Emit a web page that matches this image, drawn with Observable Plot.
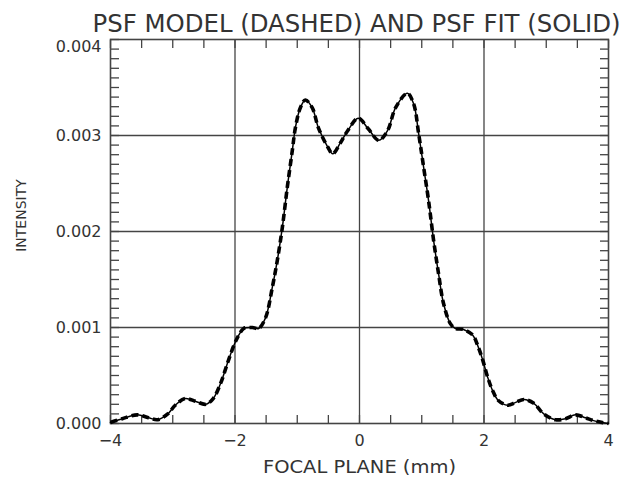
<!DOCTYPE html>
<html><head><meta charset="utf-8">
<script src="https://cdn.jsdelivr.net/npm/d3@7"></script>
<script src="https://cdn.jsdelivr.net/npm/@observablehq/plot@0.6"></script>
<style>body{margin:0;background:#fff} svg{display:block}</style>
</head><body><div id="chart"></div>
<script>
const focal = [-4.00,-3.81,-3.57,-3.39,-3.24,-3.08,-2.96,-2.80,-2.63,-2.47,-2.35,-2.23,-2.12,-2.02,-1.94,-1.86,-1.72,-1.62,-1.51,-1.40,-1.32,-1.24,-1.16,-1.08,-1.03,-0.95,-0.87,-0.76,-0.66,-0.51,-0.43,-0.31,-0.19,-0.02,0.14,0.31,0.45,0.58,0.77,0.87,0.95,1.03,1.11,1.19,1.27,1.35,1.46,1.54,1.67,1.82,1.90,1.98,2.06,2.14,2.23,2.38,2.51,2.64,2.80,2.96,3.15,3.31,3.47,3.63,3.76,3.90,4.00];
const psfModel = [0.00001,0.00005,0.00009,0.00006,0.00004,0.00010,0.00019,0.00026,0.00023,0.00020,0.00026,0.00042,0.00063,0.00081,0.00092,0.00099,0.00100,0.00099,0.00110,0.00142,0.00170,0.00204,0.00246,0.00284,0.00308,0.00329,0.00337,0.00329,0.00308,0.00288,0.00281,0.00292,0.00305,0.00318,0.00307,0.00295,0.00305,0.00329,0.00344,0.00333,0.00302,0.00267,0.00232,0.00191,0.00156,0.00125,0.00104,0.00099,0.00098,0.00092,0.00081,0.00066,0.00048,0.00034,0.00024,0.00019,0.00022,0.00025,0.00021,0.00010,0.00004,0.00005,0.00009,0.00006,0.00003,0.00001,0.00000];
const psfFit = [0.00001,0.00005,0.00009,0.00006,0.00004,0.00010,0.00019,0.00026,0.00023,0.00020,0.00026,0.00042,0.00063,0.00081,0.00092,0.00099,0.00100,0.00099,0.00110,0.00142,0.00170,0.00204,0.00246,0.00284,0.00308,0.00329,0.00337,0.00329,0.00308,0.00288,0.00281,0.00292,0.00305,0.00318,0.00307,0.00295,0.00305,0.00329,0.00344,0.00333,0.00302,0.00267,0.00232,0.00191,0.00156,0.00125,0.00104,0.00099,0.00098,0.00092,0.00081,0.00066,0.00048,0.00034,0.00024,0.00019,0.00022,0.00025,0.00021,0.00010,0.00004,0.00005,0.00009,0.00006,0.00003,0.00001,0.00000];
const xMajor = [-4,-2,0,2,4];
const xGrid = [-2,0,2];
const xMinor = [-4,-3.5,-3,-2.5,-2,-1.5,-1,-0.5,0,0.5,1,1.5,2,2.5,3,3.5,4];
const yMajor = [0,0.001,0.002,0.003];
const yTop = [0.004];
const yGrid = [0.001,0.002,0.003];
const yMinor = d3.range(0, 41).map(i => i / 10000);
const title = "PSF MODEL (DASHED) AND PSF FIT (SOLID)";
const xLabel = "FOCAL PLANE (mm)";
const yLabel = "INTENSITY";

const rows = focal.map((x, i) => ({x, model: psfModel[i], fit: psfFit[i]}));
const ink = "#333";
const chart = Plot.plot({
  width: 634, height: 480,
  marginLeft: 110, marginRight: 26, marginTop: 39, marginBottom: 57,
  style: {fontFamily: "DejaVu Sans", fontSize: "16px", color: ink, background: "#fff"},
  x: {domain: [-4, 4]},
  y: {domain: [0, 0.004]},
  marks: [
    Plot.gridX(xGrid, {stroke: "#444", strokeOpacity: 1, strokeWidth: 1.3}),
    Plot.gridY(yGrid, {stroke: "#444", strokeOpacity: 1, strokeWidth: 1.3}),
    Plot.axisX(xMajor, {anchor: "bottom", tickSize: 0, tickPadding: 11, label: null, fill: ink}),
    Plot.axisX(xMinor, {anchor: "bottom", tickSize: -8, text: null, label: null, stroke: "#444", strokeWidth: 1.3}),
    Plot.axisX(xMinor, {anchor: "top", tickSize: -8, text: null, label: null, stroke: "#444", strokeWidth: 1.3}),
    Plot.axisY(yMajor, {anchor: "left", tickSize: 0, tickPadding: 9, tickFormat: ".3f", label: null, fill: ink}),
    Plot.axisY(yTop, {anchor: "left", tickSize: 0, tickPadding: 9, dy: 7, tickFormat: ".3f", label: null, fill: ink}),
    Plot.axisY(yMinor, {anchor: "left", tickSize: -9, text: null, label: null, stroke: "#444", strokeWidth: 1.3}),
    Plot.axisY(yMinor, {anchor: "right", tickSize: -9, text: null, label: null, stroke: "#444", strokeWidth: 1.3}),
    Plot.frame({stroke: "#444", strokeWidth: 1.6}),
    Plot.line(rows, {x: "x", y: "fit", curve: "catmull-rom", stroke: "#000", strokeWidth: 1.5}),
    Plot.line(rows, {x: "x", y: "model", curve: "catmull-rom", stroke: "#000", strokeWidth: 3.6, strokeDasharray: "7,4", strokeLinecap: "butt"}),
    Plot.text([title], {frameAnchor: "top", lineAnchor: "bottom", dx: -3, dy: -8, fontSize: 24, fontFamily: "DejaVu Sans Condensed", fill: ink}),
    Plot.text([xLabel], {frameAnchor: "bottom", lineAnchor: "middle", dy: 44, fontSize: 17, fontFamily: "DejaVu Sans Condensed", fill: ink}),
    Plot.text([yLabel], {frameAnchor: "left", textAnchor: "middle", rotate: -90, lineAnchor: "middle", dx: -89, dy: -16, fontSize: 14, fill: ink})
  ]
});
const svg = d3.select(chart);
svg.selectAll("text").each(function() {
  const t = this.textContent;
  const el = d3.select(this);
  if (t === title) el.attr("textLength", 528).attr("lengthAdjust", "spacingAndGlyphs");
  if (t === xLabel) el.attr("textLength", 193).attr("lengthAdjust", "spacingAndGlyphs");
});
document.getElementById("chart").append(chart);
</script>
</body></html>
